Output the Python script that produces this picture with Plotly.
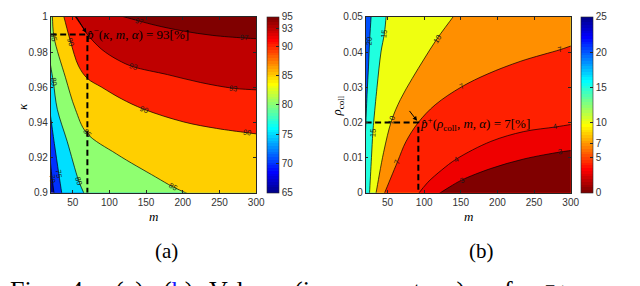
import math
import plotly.graph_objects as go

# ================= Panel (a): contour lines of p^-(kappa, m, alpha) [%] =================
A_LEVELS = [70, 75, 80, 85, 90, 93, 97]
A70_m = [20, 22, 24.5]
A70_k = [0.916, 0.908, 0.900]
A75_m = [20, 25, 31, 35]
A75_k = [0.943, 0.928, 0.911, 0.900]
A80_m = [20, 23.6, 29, 42.4, 58, 65]
A80_k = [0.972, 0.963, 0.9475, 0.9293, 0.907, 0.900]
A85_m = [22.3, 24.5, 40, 53.6, 69, 110, 163, 186, 204]
A85_k = [1.0, 0.9885, 0.9657, 0.9475, 0.934, 0.922, 0.909, 0.9035, 0.900]
A90_m = [38, 47, 58, 70, 89.5, 116, 147, 201, 246, 287, 300]
A90_k = [1.0, 0.986, 0.972, 0.965, 0.960, 0.9535, 0.9475, 0.9403, 0.9366, 0.9342, 0.9335]
A93_m = [53.5, 62, 70, 89.5, 112, 132, 179, 224, 269, 300]
A93_k = [1.0, 0.995, 0.990, 0.9815, 0.9754, 0.9717, 0.9672, 0.9627, 0.9594, 0.9585]
A97_m = [120, 141, 163, 200, 240, 283, 300]
A97_k = [1.0, 0.9976, 0.9952, 0.9920, 0.9895, 0.9880, 0.9876]
A_LABEL_AT = [[1], [2], [1, 4], [1, 4, 7], [1, 6, 9], [5, 8], [1, 5]]
A_CMIN, A_CMAX = 65, 95
A_CBAR_TICKS = [65, 70, 75, 80, 85, 90, 93, 95]
A_POINT_M, A_POINT_K, A_POINT_VAL = 70, 0.99, 93

# ================= Panel (b): contour lines of p^+(rho_coll, m, alpha) [%] =================
B_LEVELS = [20, 15, 10, 7, 4, 3]
B20_m = [20, 22, 24, 25.4, 27.5]
B20_r = [0.018, 0.028, 0.036, 0.0429, 0.05]
B15_m = [25.4, 28, 29.8, 31, 35.6, 41, 45.6, 48]
B15_r = [0, 0.01, 0.0169, 0.02, 0.03, 0.04, 0.0452, 0.05]
B10_m = [34.3, 44.6, 55.4, 67.5, 83.7, 99.8, 117.3, 139.5]
B10_r = [0, 0.0115, 0.0205, 0.0265, 0.0325, 0.038, 0.0437, 0.05]
B7_m = [46, 63.5, 75, 92, 115, 151, 187, 232, 286, 300]
B7_r = [0, 0.0088, 0.0145, 0.020, 0.025, 0.0301, 0.0338, 0.0374, 0.0407, 0.0417]
B4_m = [93, 105, 124, 144, 191, 236, 279, 300]
B4_r = [0, 0.003, 0.0065, 0.0096, 0.0146, 0.0174, 0.0187, 0.0194]
B3_m = [122, 135, 151, 191, 236, 286, 300]
B3_r = [0, 0.0017, 0.0036, 0.0069, 0.0096, 0.0116, 0.012]
B_LABEL_AT = [[3], [2, 6], [2, 6], [1, 5, 8], [3, 6], [2, 5]]
B_CMIN, B_CMAX = 0, 25
B_CBAR_TICKS = [0, 5, 7, 10, 15, 20, 25]
B_POINT_M, B_POINT_R, B_POINT_VAL = 92, 0.02, 7

# ================= axes =================
M_RANGE = [20, 300]
K_RANGE = [0.9, 1.0]
R_RANGE = [0, 0.05]
M_TICKS = [50, 100, 150, 200, 250, 300]
K_TICKS = [0.9, 0.92, 0.94, 0.96, 0.98, 1.0]
K_TICKTEXT = ["0.9", "0.92", "0.94", "0.96", "0.98", "1"]
R_TICKS = [0, 0.01, 0.02, 0.03, 0.04, 0.05]
R_TICKTEXT = ["0", "0.01", "0.02", "0.03", "0.04", "0.05"]

# ---------------- layout geometry (pixels of a 640x286 page) ----------------
PW, PH = 640, 286
L_X = [43.3, 251.7]
R_X = [362.7, 570.7]
P_Y = [4, 187]
AXIS_COLOR = "#262626"
TICK_FONT = dict(family="Liberation Sans, Arial, sans-serif", size=10, color="#333333")
SERIF = "Liberation Serif, Times New Roman, serif"


def jet64():
    m, n = 64, 16
    u = [i / n for i in range(1, n + 1)] + [1.0] * (n - 1) + [i / n for i in range(n, 0, -1)]
    g0 = math.ceil(n / 2) - (1 if m % 4 == 1 else 0)
    J = [[0.0, 0.0, 0.0] for _ in range(m)]
    for k in range(len(u)):
        gi = g0 + k + 1
        for idx, ch in ((gi + n, 0), (gi, 1), (gi - n, 2)):
            if 1 <= idx <= m:
                J[idx - 1][ch] = u[k]
    return J


JET = jet64()


def rgb(c):
    return "rgb(%d,%d,%d)" % tuple(round(v * 255) for v in c)


def cmap(v, cmin, cmax, rev):
    J = JET[::-1] if rev else JET
    idx = int(math.floor((v - cmin) / (cmax - cmin) * 64 + 1e-9))
    return rgb(J[max(0, min(63, idx))])


def colorscale(rev):
    J = JET[::-1] if rev else JET
    cs = []
    for i, c in enumerate(J):
        cs.append([i / 64, rgb(c)])
        cs.append([(i + 1) / 64, rgb(c)])
    return cs


def perim(u, v):
    e = 1e-6
    if abs(u) < e:
        return v
    if abs(v - 1) < e:
        return 1 + u
    if abs(u - 1) < e:
        return 2 + (1 - v)
    return 3 + (1 - u)


CORNER = {0: (-0.6, -0.6), 1: (-0.6, 1.6), 2: (1.6, 1.6), 3: (1.6, -0.6)}


def extend(pe, pi, d, wpx, hpx):
    du, dv = (pe[0] - pi[0]) * wpx, (pe[1] - pi[1]) * hpx
    L = math.hypot(du, dv)
    return (pe[0] + du / L * d / wpx * 200, pe[1] + dv / L * d / hpx * 200)


def paths(xs, ys, box, direction, wpx, hpx):
    X0, X1, Y0, Y1 = box
    to_u = lambda x, y: ((x - X0) / (X1 - X0), (y - Y0) / (Y1 - Y0))
    fr_u = lambda p: (X0 + p[0] * (X1 - X0), Y0 + p[1] * (Y1 - Y0))
    pts = [to_u(x, y) for x, y in zip(xs, ys)]
    s1 = extend(pts[0], pts[1], 0.05, wpx, hpx)
    s2 = extend(pts[0], pts[1], 0.2, wpx, hpx)
    e1 = extend(pts[-1], pts[-2], 0.05, wpx, hpx)
    e2 = extend(pts[-1], pts[-2], 0.2, wpx, hpx)
    ts, te = perim(*pts[0]), perim(*pts[-1])
    total = (te - ts) % 4 if direction < 0 else (ts - te) % 4
    cs = []
    for c in range(4):
        dc = (te - c) % 4 if direction < 0 else (c - te) % 4
        if 0 < dc < total:
            cs.append((dc, c))
    cs.sort()
    line = [s1] + pts + [e1]
    poly = [s2] + line + [e2] + [CORNER[c] for _, c in cs]
    line = [fr_u(p) for p in line]
    poly = [fr_u(p) for p in poly]
    return [p[0] for p in line], [p[1] for p in line], [p[0] for p in poly], [p[1] for p in poly]


fig = go.Figure()


def add_panel(lines, levels, fill_vals, bg_val, direction, yrange, xa, ya, xdom,
              cmin, cmax, rev, label_at):
    box = (M_RANGE[0], M_RANGE[1], yrange[0], yrange[1])
    wpx = xdom[1] - xdom[0]
    hpx = P_Y[1] - P_Y[0]
    fig.add_shape(type="rect", xref=xa + " domain", yref=ya + " domain", x0=0, x1=1, y0=0, y1=1,
                  fillcolor=cmap(bg_val, cmin, cmax, rev), line=dict(width=0), layer="below")
    built = []
    for (xs, ys), fv in zip(lines, fill_vals):
        lx, ly, px, py = paths(xs, ys, box, direction, wpx, hpx)
        built.append((lx, ly))
        fig.add_trace(go.Scatter(x=px, y=py, xaxis=xa, yaxis=ya, mode="lines", fill="toself",
                                 fillcolor=cmap(fv, cmin, cmax, rev),
                                 line=dict(width=0, shape="spline"), hoverinfo="skip"))
    for lx, ly in built:
        fig.add_trace(go.Scatter(x=lx, y=ly, xaxis=xa, yaxis=ya, mode="lines",
                                 line=dict(color="black", width=0.7, shape="spline"),
                                 hoverinfo="skip"))
    for (xs, ys), lev, idxs in zip(lines, levels, label_at):
        for i in idxs:
            i0, i1 = max(i - 1, 0), min(i + 1, len(xs) - 1)
            du = (xs[i1] - xs[i0]) / (box[1] - box[0]) * wpx
            dv = (ys[i1] - ys[i0]) / (box[3] - box[2]) * hpx
            ang = -math.degrees(math.atan2(dv, du))
            while ang > 90:
                ang -= 180
            while ang < -90:
                ang += 180
            fig.add_annotation(x=xs[i], y=ys[i], xref=xa, yref=ya, text=str(lev), showarrow=False,
                               textangle=ang, font=dict(family="Liberation Sans, Arial", size=7.5,
                                                        color="#1a1a1a"))


A_LINES = [(A70_m, A70_k), (A75_m, A75_k), (A80_m, A80_k), (A85_m, A85_k),
           (A90_m, A90_k), (A93_m, A93_k), (A97_m, A97_k)]
add_panel(A_LINES, A_LEVELS, A_LEVELS, A_CMIN, -1, K_RANGE, "x", "y", L_X,
          A_CMIN, A_CMAX, False, A_LABEL_AT)

B_LINES = [(B20_m, B20_r), (B15_m, B15_r), (B10_m, B10_r), (B7_m, B7_r), (B4_m, B4_r), (B3_m, B3_r)]
add_panel(B_LINES, B_LEVELS, B_LEVELS[1:] + [B_CMIN], B_LEVELS[0], +1, R_RANGE, "x2", "y2", R_X,
          B_CMIN, B_CMAX, True, B_LABEL_AT)

# dashed guide lines to the highlighted points
fig.add_trace(go.Scatter(x=[M_RANGE[0], A_POINT_M, A_POINT_M], y=[A_POINT_K, A_POINT_K, K_RANGE[0]],
                         xaxis="x", yaxis="y", mode="lines", hoverinfo="skip",
                         line=dict(color="black", width=2, dash="6px,3.5px")))
fig.add_trace(go.Scatter(x=[M_RANGE[0], B_POINT_M, B_POINT_M], y=[B_POINT_R, B_POINT_R, R_RANGE[0]],
                         xaxis="x2", yaxis="y2", mode="lines", hoverinfo="skip",
                         line=dict(color="black", width=2, dash="6px,3.5px")))


# colorbars
def cbar_trace(xa, ya, x0, y0, cmin, cmax, rev, ticks, xpix):
    return go.Scatter(
        x=[x0], y=[y0], xaxis=xa, yaxis=ya, mode="markers", hoverinfo="skip",
        marker=dict(size=1, opacity=0, color=[cmin], cmin=cmin, cmax=cmax,
                    colorscale=colorscale(rev), showscale=True,
                    colorbar=dict(x=xpix / PW, xanchor="left", xpad=0, ypad=0,
                                  y=1 - (P_Y[0] + P_Y[1]) / 2 / PH, yanchor="middle",
                                  len=(P_Y[1] - P_Y[0]) / PH, lenmode="fraction",
                                  thickness=12, thicknessmode="pixels",
                                  outlinewidth=0.6, outlinecolor=AXIS_COLOR,
                                  tickvals=ticks, ticktext=[str(t) for t in ticks],
                                  ticks="inside", ticklen=3, tickcolor=AXIS_COLOR,
                                  ticklabeloverflow="allow",
                                  tickfont=TICK_FONT)))


fig.add_trace(cbar_trace("x", "y", M_RANGE[0], K_RANGE[0], A_CMIN, A_CMAX, False, A_CBAR_TICKS, 262.5))
fig.add_trace(cbar_trace("x2", "y2", M_RANGE[0], R_RANGE[0], B_CMIN, B_CMAX, True, B_CBAR_TICKS, 581.5))

# point annotations
fig.add_annotation(x=A_POINT_M, y=A_POINT_K, xref="x", yref="y", text="", showarrow=True,
                   ax=-12, ay=-19, arrowhead=2, arrowsize=0.9, arrowwidth=1, arrowcolor="black",
                   standoff=2)
fig.add_annotation(x=A_POINT_M, y=A_POINT_K, xref="x", yref="y", showarrow=False,
                   xanchor="left", yanchor="middle", xshift=-3, yshift=0,
                   text="<i>p̂</i><sup>−</sup>(<i>κ</i>, <i>m</i>, <i>α</i>) = %d[%%]" % A_POINT_VAL,
                   font=dict(family=SERIF, size=13, color="black"))
fig.add_annotation(x=B_POINT_M, y=B_POINT_R, xref="x2", yref="y2", text="", showarrow=True,
                   ax=-10, ay=-13, arrowhead=2, arrowsize=0.9, arrowwidth=1, arrowcolor="black",
                   standoff=2)
fig.add_annotation(x=B_POINT_M, y=B_POINT_R, xref="x2", yref="y2", showarrow=False,
                   xanchor="left", yanchor="middle", xshift=0, yshift=-2,
                   text="<i>p̂</i><sup>+</sup>(<i>ρ</i><sub>coll</sub>, <i>m</i>, <i>α</i>) = %d[%%]" % B_POINT_VAL,
                   font=dict(family=SERIF, size=13, color="black"))


def pa(x, y, text, size, angle=0, color="black", xanchor="center", yanchor="middle"):
    fig.add_annotation(x=x / PW, y=1 - y / PH, xref="paper", yref="paper", text=text,
                       showarrow=False, textangle=angle, xanchor=xanchor, yanchor=yanchor,
                       font=dict(family=SERIF, size=size, color=color))


# axis titles
pa(sum(L_X) / 2, 212, "<i>m</i>", 13)
pa(sum(R_X) / 2, 212, "<i>m</i>", 13)
pa(14, 97, "<i>κ</i>", 13, angle=-90)
pa(334, 97, "<i>ρ</i><sub>coll</sub>", 13, angle=-90)
# sub-captions
pa(161, 247, "(a)", 21)
pa(480, 247, "(b)", 21)
# caption line (cut off at the bottom of the image, as in the source)
CAPTION_WORDS = ["Fig.", "4:", "(<span style='color:#1a1aff'>a</span>),",
                 "(<span style='color:#1a1aff'>b</span>)", "Values", "(in", "percentage)", "of",
                 "<i>p̂</i><sup>−</sup>(<i>κ</i>, <i>m</i>, <i>α</i>)"]
CAPTION_X = [0, 61, 106, 155, 202, 288, 339, 488, 527]
for w, x in zip(CAPTION_WORDS, CAPTION_X):
    pa(x, 271, w, 26, xanchor="left", yanchor="top")

axis_common = dict(showgrid=False, zeroline=False, showline=True, linecolor=AXIS_COLOR, linewidth=0.6,
                   mirror="ticks", ticks="inside", ticklen=3, tickcolor=AXIS_COLOR, tickfont=TICK_FONT,
                   ticklabeloverflow="allow")
ydom = [1 - P_Y[1] / PH, 1 - P_Y[0] / PH]
fig.update_layout(
    width=PW, height=PH, autosize=False, margin=dict(l=0, r=0, t=0, b=0),
    paper_bgcolor="white", plot_bgcolor="white", showlegend=False, hovermode=False,
    xaxis=dict(domain=[L_X[0] / PW, L_X[1] / PW], range=M_RANGE, tickvals=M_TICKS, anchor="y",
               **axis_common),
    yaxis=dict(domain=ydom, range=K_RANGE, tickvals=K_TICKS, ticktext=K_TICKTEXT, anchor="x",
               **axis_common),
    xaxis2=dict(domain=[R_X[0] / PW, R_X[1] / PW], range=M_RANGE, tickvals=M_TICKS, anchor="y2",
                **axis_common),
    yaxis2=dict(domain=ydom, range=R_RANGE, tickvals=R_TICKS, ticktext=R_TICKTEXT, anchor="x2",
                **axis_common),
)

fig.write_html("out.html")
